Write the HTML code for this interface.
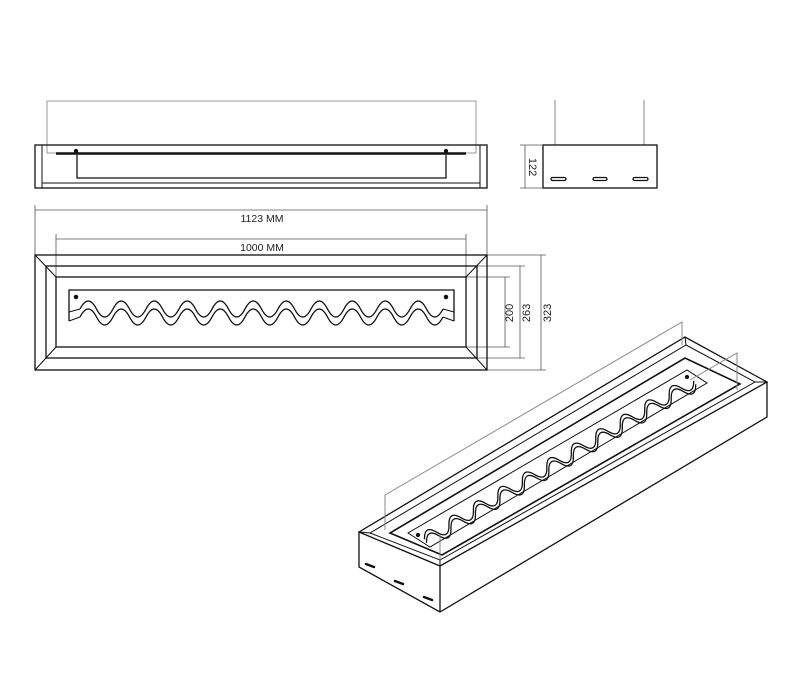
<!DOCTYPE html>
<html><head><meta charset="utf-8"><style>
html,body{margin:0;padding:0;background:#fff;}
svg{display:block}
text{font-family:"Liberation Sans",sans-serif;fill:#222}
</style></head><body>
<svg width="800" height="685" viewBox="0 0 800 685" xmlns="http://www.w3.org/2000/svg">
<g fill="none" stroke="#111" stroke-width="1.3">
<!-- front elevation -->
<rect x="47" y="101" width="429" height="52" stroke="#999" stroke-width="1"/>
<rect x="35" y="145" width="452" height="43"/>
<line x1="42" y1="145" x2="42" y2="188" stroke-width="1"/>
<line x1="480" y1="145" x2="480" y2="188" stroke-width="1"/>
<line x1="42" y1="183" x2="480" y2="183" stroke-width="1"/>
<line x1="56" y1="153.5" x2="466" y2="153.5" stroke-width="2.5"/>
<polyline points="77,155 77,178 446,178 446,155"/>
<circle cx="76" cy="151" r="1.5" fill="#111"/><circle cx="446" cy="151" r="1.5" fill="#111"/>
<!-- side view -->
<line x1="555" y1="100" x2="555" y2="145" stroke="#888" stroke-width="1"/>
<line x1="644" y1="100" x2="644" y2="145" stroke="#888" stroke-width="1"/>
<rect x="543" y="145" width="114" height="43"/>
<rect x="551" y="177.5" width="15" height="3" rx="1.5"/>
<rect x="593" y="177.5" width="14" height="3" rx="1.5"/>
<rect x="633" y="177.5" width="15" height="3" rx="1.5"/>
<g stroke="#555" stroke-width="0.8">
<line x1="525" y1="145" x2="525" y2="188"/><line x1="520" y1="145" x2="543" y2="145"/><line x1="520" y1="188" x2="543" y2="188"/>
<line x1="35" y1="210" x2="487" y2="210"/><line x1="35" y1="205" x2="35" y2="255"/><line x1="487" y1="205" x2="487" y2="255"/>
<line x1="56" y1="239" x2="466" y2="239"/><line x1="56" y1="234" x2="56" y2="277"/><line x1="466" y1="234" x2="466" y2="277"/>
<line x1="505" y1="277" x2="505" y2="347"/><line x1="466" y1="277" x2="510" y2="277"/><line x1="466" y1="347" x2="510" y2="347"/>
<line x1="520" y1="266" x2="520" y2="358"/><line x1="477" y1="266" x2="525" y2="266"/><line x1="477" y1="358" x2="525" y2="358"/>
<line x1="541" y1="255" x2="541" y2="370"/><line x1="487" y1="255" x2="546" y2="255"/><line x1="487" y1="370" x2="546" y2="370"/>
</g>
<!-- plan -->
<rect x="35" y="255" width="452" height="115"/>
<rect x="46" y="266" width="431" height="92"/>
<rect x="56" y="277" width="410" height="70"/>
<line x1="35" y1="255" x2="56" y2="277" stroke-width="1"/><line x1="487" y1="255" x2="466" y2="277" stroke-width="1"/>
<line x1="35" y1="370" x2="56" y2="347" stroke-width="1"/><line x1="487" y1="370" x2="466" y2="347" stroke-width="1"/>
<path d="M69 312 L69 290 L454 290 L454 312"/>
<line x1="69" y1="312" x2="69" y2="321"/><line x1="454" y1="312" x2="454" y2="321"/>
<circle cx="76" cy="297" r="1.6" fill="#111"/><circle cx="446" cy="297" r="1.6" fill="#111"/>
<path d="M80 309 q8.25 -16 16.5 0 t16.5 0 t16.5 0 t16.5 0 t16.5 0 t16.5 0 t16.5 0 t16.5 0 t16.5 0 t16.5 0 t16.5 0 t16.5 0 t16.5 0 t16.5 0 t16.5 0 t16.5 0 t16.5 0 t16.5 0 t16.5 0 t16.5 0 t16.5 0 t16.5 0"/>
<path d="M80 317 q8.25 -16 16.5 0 t16.5 0 t16.5 0 t16.5 0 t16.5 0 t16.5 0 t16.5 0 t16.5 0 t16.5 0 t16.5 0 t16.5 0 t16.5 0 t16.5 0 t16.5 0 t16.5 0 t16.5 0 t16.5 0 t16.5 0 t16.5 0 t16.5 0 t16.5 0 t16.5 0"/>
<path d="M69 312 L80 309 M69 321 L80 317 M454 312 L443 309 M454 321 L443 317" stroke-width="1"/>
<!-- isometric -->
<polygon points="359,532 440,566 767,382 685,337"/>
<polyline points="359,532 359,567 440,612 767,417 767,382"/>
<line x1="440" y1="566" x2="440" y2="612"/>
<polygon points="370,533 440,560 755,382 686,345" stroke-width="1"/>
<polygon points="390,533 442,555 740,384 685,358" stroke-width="1.6"/>
<line x1="359" y1="532" x2="370" y2="533" stroke-width="1"/><line x1="767" y1="382" x2="755" y2="382" stroke-width="1"/><line x1="685" y1="337" x2="686" y2="345" stroke-width="1"/>
<line x1="440" y1="566" x2="440" y2="560" stroke-width="1"/>
<polygon points="408,533 430,547 707,383 687,370" stroke-width="1"/>
<circle cx="418" cy="535" r="1.5" fill="#111"/><circle cx="687" cy="377" r="1.5" fill="#111"/>
<g transform="translate(426,542) rotate(-30.5)">
<path d="M0 -3 q7.1 -13 14.2 0 t14.2 0 t14.2 0 t14.2 0 t14.2 0 t14.2 0 t14.2 0 t14.2 0 t14.2 0 t14.2 0 t14.2 0 t14.2 0 t14.2 0 t14.2 0 t14.2 0 t14.2 0 t14.2 0 t14.2 0 t14.2 0 t14.2 0 t14.2 0 t14.2 0"/>
<path d="M0 1 q7.1 -13 14.2 0 t14.2 0 t14.2 0 t14.2 0 t14.2 0 t14.2 0 t14.2 0 t14.2 0 t14.2 0 t14.2 0 t14.2 0 t14.2 0 t14.2 0 t14.2 0 t14.2 0 t14.2 0 t14.2 0 t14.2 0 t14.2 0 t14.2 0 t14.2 0 t14.2 0"/>
</g>
<g stroke="#888" stroke-width="1">
<polyline points="385,530 385,495 682,322 682,345"/>
<polyline points="440,560 440,535"/>
<polyline points="737,390 737,353 690,380"/>
</g>
<g stroke-width="2.5" stroke-linecap="round">
<line x1="366" y1="564" x2="374" y2="567"/><line x1="395" y1="581" x2="403" y2="584"/><line x1="424" y1="597" x2="432" y2="600"/>
</g>
</g>
<text x="262" y="222" font-size="10.5" text-anchor="middle">1123 MM</text>
<text x="262" y="251" font-size="10.5" text-anchor="middle">1000 MM</text>
<text font-size="11" text-anchor="middle" transform="translate(513,313) rotate(-90)">200</text>
<text font-size="11" text-anchor="middle" transform="translate(530,313) rotate(-90)">263</text>
<text font-size="11" text-anchor="middle" transform="translate(551,313) rotate(-90)">323</text>
<text font-size="11" text-anchor="middle" transform="translate(529,167) rotate(90)">122</text>
</svg>
</body></html>
